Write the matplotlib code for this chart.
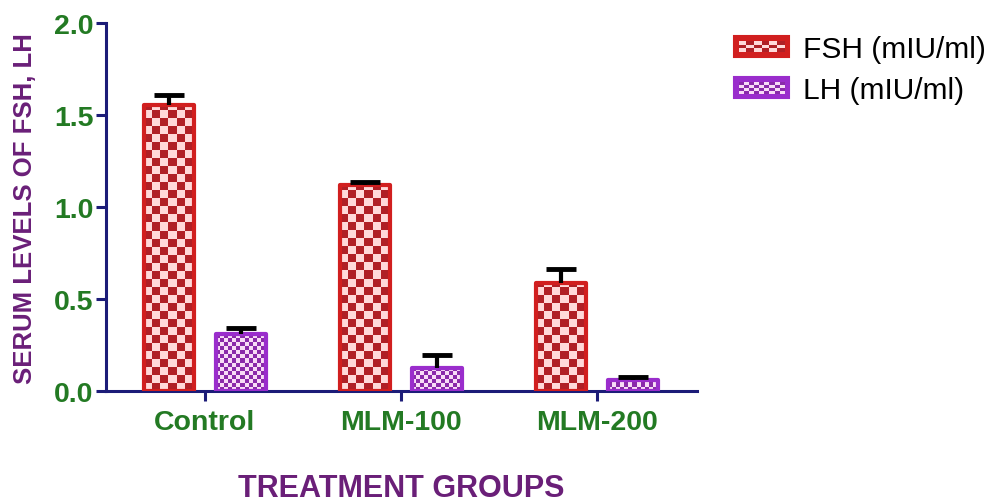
import numpy as np
import matplotlib
matplotlib.use('Agg')
import matplotlib.pyplot as plt
from matplotlib.colors import ListedColormap
from matplotlib.patches import Rectangle
from matplotlib.legend_handler import HandlerBase

groups = ['Control', 'MLM-100', 'MLM-200']
fsh_mean = [1.555, 1.12, 0.585]
fsh_err = [0.055, 0.015, 0.08]
lh_mean = [0.31, 0.125, 0.06]
lh_err = [0.035, 0.07, 0.015]
series_labels = ['FSH (mIU/ml)', 'LH (mIU/ml)']

plt.rcParams['font.family'] = ['Liberation Sans', 'DejaVu Sans']

NAVY = '#1c1c78'
GREEN = '#237a23'
PURPLE = '#6a1f78'

# border, dark square, light square, checker cell size (px)
FSH_STYLE = dict(edge='#d11f1f', dark='#b02026', light='#ffd9d9', cell=8)
LH_STYLE = dict(edge='#9a2dcc', dark='#8a2aaa', light='#f8dcf6', cell=4)

fig = plt.figure(figsize=(9.99, 5.02), dpi=100)
ax = fig.add_axes([0.106, 0.219, 0.592, 0.733])
ax.set_xlim(-0.505, 2.51)
ax.set_ylim(0, 2.0)
ax.set_autoscale_on(False)

x = np.arange(len(groups))
offset = 0.184
width = 0.255


def checker_fill(ax, bar, style):
    # tile the bar with a square checkerboard, clipped to the bar outline
    inv = ax.transData.inverted()
    p0 = inv.transform((0, 0))
    p1 = inv.transform((style['cell'], style['cell']))
    cx, cy = p1 - p0
    x0, y0 = bar.get_x(), bar.get_y()
    nx = int(np.ceil(bar.get_width() / cx)) + 1
    ny = int(np.ceil(bar.get_height() / cy)) + 1
    grid = np.add.outer(np.arange(ny), np.arange(nx)) % 2
    im = ax.imshow(grid, cmap=ListedColormap([style['light'], style['dark']]),
                   extent=(x0, x0 + nx * cx, y0, y0 + ny * cy), origin='lower',
                   interpolation='nearest', aspect='auto', zorder=2)
    im.set_clip_path(bar)


def draw_series(xs, means, errs, style):
    bars = ax.bar(xs, means, width, facecolor='none', edgecolor=style['edge'],
                  linewidth=3, zorder=3)
    for b in bars:
        b.set_joinstyle('round')
        checker_fill(ax, b, style)
    eb = ax.errorbar(xs, means, yerr=[np.zeros(len(errs)), errs], fmt='none',
                     ecolor='black', elinewidth=3, capsize=10.5, capthick=3.5,
                     zorder=4)
    # only the upper cap is drawn
    eb[1][0].set_visible(False)


draw_series(x - offset, fsh_mean, fsh_err, FSH_STYLE)
draw_series(x + offset, lh_mean, lh_err, LH_STYLE)

# axes styling
for side in ['top', 'right']:
    ax.spines[side].set_visible(False)
for side in ['left', 'bottom']:
    ax.spines[side].set_color(NAVY)
    ax.spines[side].set_linewidth(2.2)

ax.set_yticks([0, 0.5, 1.0, 1.5, 2.0])
ax.set_yticklabels(['0.0', '0.5', '1.0', '1.5', '2.0'])
ax.set_xticks(x)
ax.set_xticklabels(groups)
ax.tick_params(axis='both', colors=NAVY, width=2.2, length=7, direction='out')
ax.tick_params(axis='y', pad=2)
ax.tick_params(axis='x', pad=6)
for lbl in ax.get_yticklabels() + ax.get_xticklabels():
    lbl.set_color(GREEN)
    lbl.set_fontweight('bold')
    lbl.set_fontsize(20.5)

ax.set_ylabel('SERUM LEVELS OF FSH, LH', color=PURPLE, fontsize=18.5,
              fontweight='bold', labelpad=12)
ax.set_xlabel('TREATMENT GROUPS', color=PURPLE, fontsize=22,
              fontweight='bold', labelpad=27)


class CheckerHandler(HandlerBase):
    def __init__(self, style, cols, rows):
        super().__init__()
        self.style = style
        self.cols = cols
        self.rows = rows

    def create_artists(self, legend, orig_handle, xdescent, ydescent,
                       width, height, fontsize, trans):
        s = self.style
        arts = [Rectangle((-xdescent, -ydescent), width, height,
                          facecolor=s['edge'], edgecolor=s['edge'],
                          linewidth=1.5, transform=trans)]
        pad = height * 0.22
        cw = (width - 2 * pad) / self.cols
        ch = (height - 2 * pad) / self.rows
        for i in range(self.rows):
            for j in range(self.cols):
                c = s['light'] if (i + j) % 2 == 0 else s['dark']
                arts.append(Rectangle((-xdescent + pad + j * cw,
                                       -ydescent + pad + i * ch), cw, ch,
                                      facecolor=c, edgecolor='none',
                                      transform=trans))
        return arts


h_fsh = Rectangle((0, 0), 1, 1)
h_lh = Rectangle((0, 0), 1, 1)
leg = fig.legend([h_fsh, h_lh], series_labels, loc='upper left',
                 bbox_to_anchor=(0.708, 0.982), frameon=False,
                 fontsize=21.5, handlelength=1.85, handleheight=0.7,
                 handletextpad=0.45, labelspacing=0.45,
                 handler_map={h_fsh: CheckerHandler(FSH_STYLE, 6, 3),
                              h_lh: CheckerHandler(LH_STYLE, 9, 4)})

fig.savefig('out.png', dpi=100)
